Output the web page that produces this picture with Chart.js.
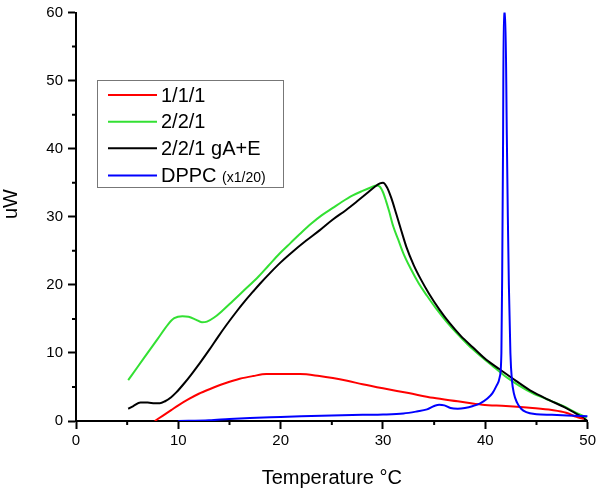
<!DOCTYPE html>
<html lang="en">
<head>
  <meta charset="UTF-8">
  <title>DSC thermograms</title>
  <script src="https://cdn.jsdelivr.net/npm/chart.js"></script>
  <style>
    body {
      margin: 0;
      background-color: #ffffff;
    }
  </style>
</head>
<body>
  <canvas id="dscChart" width="600" height="492"></canvas>

  <script>
    // series: temperature (°C) and heat flow (uW)
    const redT = [7.7, 8.5, 9.3, 10.0, 11.0, 12.0, 13.1, 14.5, 16.0, 17.3, 18.6, 20.0, 21.9, 23.8, 25.1, 26.5, 28.0, 30.0, 32.5, 34.9, 37.3, 39.7, 42.0, 44.6, 46.5, 47.9, 48.9, 49.6];
    const redY = [0.0, 0.8, 1.6, 2.3, 3.2, 4.0, 4.7, 5.5, 6.2, 6.6, 6.9, 6.9, 6.9, 6.6, 6.3, 5.9, 5.4, 4.8, 4.1, 3.4, 2.9, 2.4, 2.2, 1.9, 1.6, 1.2, 0.6, 0.3];

    const greenT = [5.1, 6.0, 7.0, 8.0, 9.0, 9.6, 10.4, 11.0, 11.7, 12.3, 12.8, 13.5, 14.3, 15.3, 16.5, 17.7, 18.8, 19.9, 21.0, 21.9, 23.0, 24.0, 25.1, 26.0, 27.0, 28.0, 28.8, 29.4, 29.7, 30.0, 30.3, 30.6, 31.0, 31.5, 32.0, 32.7, 33.5, 34.3, 35.2, 36.2, 37.2, 38.3, 39.5, 40.7, 42.1, 43.3, 44.6, 46.0, 47.6, 48.9, 49.9];
    const greenY = [6.0, 7.9, 10.0, 12.1, 14.2, 15.1, 15.4, 15.3, 14.9, 14.5, 14.6, 15.2, 16.2, 17.6, 19.3, 21.0, 22.8, 24.6, 26.2, 27.5, 29.0, 30.2, 31.3, 32.2, 33.1, 33.8, 34.3, 34.6, 34.4, 33.6, 32.3, 30.8, 28.6, 26.6, 24.6, 22.4, 20.2, 18.4, 16.5, 14.6, 12.9, 11.2, 9.6, 8.1, 6.4, 5.2, 4.1, 3.2, 2.2, 1.2, 0.5];

    const blackT = [5.1, 5.6, 6.3, 7.0, 7.7, 8.2, 8.7, 9.3, 9.8, 10.5, 11.3, 12.1, 13.0, 13.9, 14.7, 15.6, 16.5, 17.3, 18.0, 19.0, 20.0, 21.2, 22.5, 23.8, 25.1, 26.4, 27.5, 28.4, 29.2, 29.7, 30.0, 30.4, 30.8, 31.3, 31.8, 32.3, 33.0, 33.7, 34.5, 35.5, 36.5, 37.6, 38.8, 40.1, 41.4, 43.0, 44.6, 46.2, 47.9, 49.2, 50.0];
    const blackY = [1.8, 2.2, 2.7, 2.7, 2.6, 2.6, 2.9, 3.5, 4.2, 5.4, 6.9, 8.5, 10.4, 12.4, 14.1, 15.9, 17.6, 19.0, 20.2, 21.8, 23.3, 24.9, 26.5, 28.0, 29.6, 31.0, 32.3, 33.4, 34.4, 34.9, 35.0, 34.3, 32.8, 30.4, 27.9, 25.5, 22.9, 20.8, 18.7, 16.4, 14.4, 12.5, 10.8, 9.0, 7.6, 5.9, 4.3, 3.1, 1.9, 0.8, 0.0];

    const blueT = [10.0, 13.0, 15.0, 17.0, 20.0, 22.0, 25.0, 28.0, 30.0, 32.0, 33.3, 34.3, 35.0, 35.5, 36.0, 36.6, 37.3, 38.0, 38.8, 39.5, 40.2, 40.7, 41.1, 41.4, 41.57, 41.65, 41.73, 41.8, 41.95, 42.1, 42.2, 42.3, 42.45, 42.6, 42.8, 43.1, 43.5, 44.0, 45.0, 46.5, 48.0, 50.0];
    const blueY = [0.0, 0.1, 0.3, 0.45, 0.6, 0.7, 0.8, 0.9, 0.95, 1.1, 1.4, 1.7, 2.2, 2.4, 2.3, 1.9, 1.8, 1.9, 2.2, 2.6, 3.3, 4.1, 5.2, 6.4, 10, 22, 40, 60, 60, 42, 30, 20, 10, 6, 4, 2.7, 1.8, 1.3, 1.0, 0.9, 0.8, 0.7];

    const seriesLabels = ['1/1/1', '2/2/1', '2/2/1 gA+E', 'DPPC'];
    const seriesNotes = ['', '', '', '(x1/20)'];
    const seriesColors = ['#ff0000', '#33e033', '#000000', '#0000ff'];

    const xTicks = [0, 10, 20, 30, 40, 50];
    const yTicks = [0, 10, 20, 30, 40, 50, 60];

    const FONT = "'Liberation Sans', Arial, sans-serif";

    function toPoints(xs, ys) {
      return xs.map((x, i) => ({ x: x, y: ys[i] }));
    }

    // minor ticks halfway between the labelled ones, plus the y title
    const axisExtras = {
      id: 'axisExtras',
      afterDraw(chart) {
        const { ctx, scales: { x, y } } = chart;
        ctx.save();
        ctx.strokeStyle = '#000';
        ctx.lineWidth = 2;
        ctx.beginPath();
        for (let i = 0; i < xTicks.length - 1; i++) {
          const px = x.getPixelForValue((xTicks[i] + xTicks[i + 1]) / 2);
          ctx.moveTo(px, y.bottom);
          ctx.lineTo(px, y.bottom + 4);
        }
        for (let i = 0; i < yTicks.length - 1; i++) {
          const py = y.getPixelForValue((yTicks[i] + yTicks[i + 1]) / 2);
          ctx.moveTo(x.left, py);
          ctx.lineTo(x.left - 4, py);
        }
        ctx.stroke();

        ctx.translate(11.5, 204);
        ctx.rotate(-Math.PI / 2);
        ctx.fillStyle = '#000';
        ctx.font = '20px ' + FONT;
        ctx.textAlign = 'center';
        ctx.textBaseline = 'middle';
        ctx.fillText('uW', 0, 0);
        ctx.restore();
      }
    };

    // boxed legend in the upper left, like the original plot
    const boxLegend = {
      id: 'boxLegend',
      afterDraw(chart) {
        const ctx = chart.ctx;
        const rows = [95, 121.7, 148.3, 175.5];
        ctx.save();
        ctx.fillStyle = '#fff';
        ctx.fillRect(97, 80, 187, 108);
        ctx.strokeStyle = '#777';
        ctx.lineWidth = 1;
        ctx.strokeRect(97.5, 80.5, 186, 107);
        ctx.textBaseline = 'middle';
        ctx.textAlign = 'left';
        seriesLabels.forEach((label, i) => {
          ctx.strokeStyle = seriesColors[i];
          ctx.lineWidth = 2;
          ctx.beginPath();
          ctx.moveTo(108, rows[i]);
          ctx.lineTo(157, rows[i]);
          ctx.stroke();
          ctx.fillStyle = '#000';
          ctx.font = '20px ' + FONT;
          ctx.fillText(label, 161, rows[i] + 1);
          if (seriesNotes[i]) {
            const w = ctx.measureText(label + ' ').width;
            ctx.font = '14px ' + FONT;
            ctx.fillText(seriesNotes[i], 161 + w, rows[i] + 3);
          }
        });
        ctx.restore();
      }
    };

    const ctx = document.getElementById('dscChart').getContext('2d');

    const chart = new Chart(ctx, {
      type: 'line',
      data: {
        datasets: [
          { label: seriesLabels[0], data: toPoints(redT, redY), borderColor: seriesColors[0], order: 2 },
          { label: seriesLabels[1], data: toPoints(greenT, greenY), borderColor: seriesColors[1], order: 4 },
          { label: seriesLabels[2], data: toPoints(blackT, blackY), borderColor: seriesColors[2], order: 3 },
          { label: seriesLabels[3], data: toPoints(blueT, blueY), borderColor: seriesColors[3], order: 1 }
        ]
      },
      options: {
        responsive: false,
        animation: false,
        events: [],
        layout: {
          padding: { top: 8, right: 12, left: 0, bottom: 0 }
        },
        elements: {
          point: { radius: 0 },
          line: { borderWidth: 2, cubicInterpolationMode: 'monotone' }
        },
        plugins: {
          legend: { display: false },
          tooltip: { enabled: false }
        },
        scales: {
          x: {
            type: 'linear',
            min: 0,
            max: 50,
            afterBuildTicks: (s) => { s.ticks = xTicks.map(v => ({ value: v })); },
            afterFit: (s) => { s.height = 71; },
            ticks: {
              color: '#000',
              padding: 4,
              font: { family: FONT, size: 15, lineHeight: 1 }
            },
            grid: {
              drawOnChartArea: false,
              tickLength: 8,
              tickWidth: 2,
              tickColor: '#000'
            },
            border: { color: '#000', width: 2 },
            title: {
              display: true,
              text: 'Temperature °C',
              color: '#000',
              font: { family: FONT, size: 20 },
              padding: { top: 0, bottom: 2 }
            }
          },
          y: {
            min: 0,
            max: 60,
            afterBuildTicks: (s) => { s.ticks = yTicks.map(v => ({ value: v })); },
            afterFit: (s) => { s.width = 76; },
            ticks: {
              color: '#000',
              padding: 5,
              font: { family: FONT, size: 15, lineHeight: 1 }
            },
            grid: {
              drawOnChartArea: false,
              tickLength: 8,
              tickWidth: 2,
              tickColor: '#000'
            },
            border: { color: '#000', width: 2 }
          }
        }
      },
      plugins: [axisExtras, boxLegend]
    });
  </script>
</body>
</html>
